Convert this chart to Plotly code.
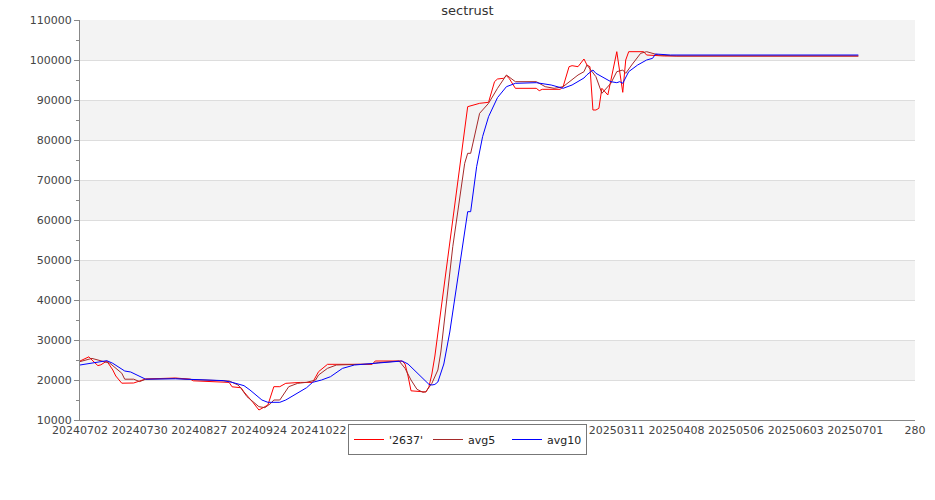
import plotly.graph_objects as go

title_text = "sectrust"

price_x = [0, 2, 3, 4, 6, 7, 8, 9, 11, 12, 14, 18, 22, 32, 37, 38, 50, 51, 54, 55, 58, 60, 63, 65, 67, 69, 74, 78,
           80, 81, 83, 98, 99, 108, 109, 110, 111, 116, 117, 118, 119, 130, 131, 134, 137, 139, 140, 142, 143, 144,
           146, 153, 154, 155, 161, 162, 164, 165, 167, 168, 169, 170, 171, 172, 173, 174, 175, 177, 180, 182,
           183, 184, 189, 190, 196, 261]
price_y = [24750, 25500, 25800, 25000, 23600, 23800, 24300, 24750, 22500, 21000, 19200, 19250, 20250, 20500, 20200,
           19800, 19400, 18300, 18070, 17000, 14400, 12500, 13750, 18330, 18330, 19170, 19400, 19400,
           22080, 22750, 23920, 23920, 24750, 24750, 24000, 21000, 17300, 17000, 18300, 21500, 26000, 88330, 88580,
           89170, 89420, 94580, 95250, 95420, 96080, 95300,
           92920, 92920, 92330, 92670, 92670, 93330, 98330, 98580, 98330, 99170, 100250, 98750, 98330, 87500,
           87500, 87920, 92920, 91250, 102080, 91920,
           100000, 102080, 102080, 101250, 101000, 101000]

avg5_x = [0, 4, 8, 10, 14, 15, 18, 20, 22, 32, 38, 50, 53, 54, 56, 60, 62, 64, 65, 67, 70, 73, 76, 79, 80, 83, 86,
          97, 100, 107, 109, 111, 113, 115, 116, 118, 120, 121, 125, 129, 130, 131, 134, 137, 140, 143, 146, 153,
          156, 159, 162, 164, 167, 169, 170, 173, 175, 178, 180, 182, 183, 185, 188, 190, 192, 194, 200, 261]
avg5_y = [24600, 25400, 24600, 24200, 21700, 20200, 20200, 19600, 20200, 20400, 20100, 19750, 18750, 17920, 15830,
          13330, 13080, 14170, 15000, 15000, 18330, 19170, 19420, 20000, 21250, 22920, 23750,
          24000, 24330, 24750, 22920, 20000, 17670, 16920, 17080, 19170, 22500, 27000, 53330, 74170, 76670, 76670,
          86670, 89170, 92920, 96250, 94580, 94580,
          93330, 92920, 93330, 94580, 96250, 97080, 98750, 95830, 91670, 94170, 97080, 97500, 96670, 98750, 101670,
          102080, 101670, 101250, 101000, 101000]

avg10_x = [0, 3, 6, 9, 11, 15, 17, 19, 22, 32, 38, 48, 51, 53, 55, 57, 59, 61, 63, 67, 69, 72, 74, 76, 78, 81, 84,
           86, 88, 92, 106, 108, 110, 117, 118, 119, 120, 121, 122, 124, 127, 130, 131, 133, 135, 137, 140, 143,
           146, 153, 158, 162, 165, 169, 170, 172, 173, 176, 178, 180, 181, 182, 184, 187, 190, 192, 193, 198, 261]
avg10_y = [23750, 24170, 24580, 24830, 24170, 22250, 22000, 21250, 20200, 20300, 20100, 19850, 19420, 18920, 18580,
           17500, 16250, 15000, 14420, 14420, 15000, 16250, 17080, 18080, 19420, 20000, 20830,
           21900, 22900, 23750, 24580, 24750, 24000, 18920, 18750, 18900, 19500, 21500, 24000, 32000, 47500, 62080,
           62080, 73330, 80830, 85830, 90600, 93330,
           94170, 94330, 93750, 92920, 93750, 95500, 96300, 97500, 96670, 95420, 94580, 94330, 94580, 94170, 97080,
           98750, 100000, 100420, 101500, 101250, 101250]

x_tickvals = list(range(0, 281, 20))
x_ticktext = ["20240702", "20240730", "20240827", "20240924", "20241022", "20241119", "20241217", "20250114",
              "20250211", "20250311", "20250408", "20250506", "20250603", "20250701", "280"]
y_range = [10000, 110000]
y_major = list(range(10000, 110001, 10000))

fig = go.Figure()
fig.add_trace(go.Scatter(x=price_x, y=price_y, mode="lines", name="'2637'",
                         line=dict(color="#ff0000", width=1)))
fig.add_trace(go.Scatter(x=avg5_x, y=avg5_y, mode="lines", name="avg5",
                         line=dict(color="#a52a2a", width=1)))
fig.add_trace(go.Scatter(x=avg10_x, y=avg10_y, mode="lines", name="avg10",
                         line=dict(color="#0000ff", width=1)))

# alternating background bands
for i in range(len(y_major) - 1):
    if i % 2 == 1:
        fig.add_shape(type="rect", xref="paper", x0=0, x1=1, yref="y", y0=y_major[i], y1=y_major[i + 1],
                      fillcolor="#f3f3f3", line=dict(width=0), layer="below")

fig.update_layout(
    width=935, height=500,
    margin=dict(l=80, r=20, t=20, b=80, autoexpand=False),
    paper_bgcolor="white", plot_bgcolor="white",
    font=dict(family="DejaVu Sans", size=11, color="#444"),
    title=dict(text=title_text, x=0.5, xref="container", xanchor="center",
               y=1 - 10 / 500, yref="container", yanchor="middle",
               font=dict(size=13, color="#333")),
    showlegend=True,
    legend=dict(orientation="h", x=(467.5 - 80) / 835, xanchor="center",
                y=(420 - 424) / 400, yanchor="top",
                bgcolor="white", bordercolor="#777", borderwidth=1,
                font=dict(size=11, color="#222"),
                entrywidth=34, entrywidthmode="pixels"),
    xaxis=dict(range=[0, 280], tickmode="array", tickvals=x_tickvals, ticktext=x_ticktext,
               showgrid=False, zeroline=False, showline=True, linecolor="#888", linewidth=1,
               ticks="", tickfont=dict(size=11, color="#444"), automargin=False),
    yaxis=dict(range=y_range, tickmode="array", tickvals=y_major, showgrid=True, gridcolor="#dddddd",
               zeroline=False, showline=True, linecolor="#888", linewidth=1,
               ticks="outside", ticklen=5, tickcolor="#888",
               minor=dict(dtick=5000, tick0=5000, ticks="outside", ticklen=3, tickcolor="#888", showgrid=False),
               tickfont=dict(size=11, color="#444"), tickformat="d", automargin=False),
)

fig.write_html("out.html", config={"displayModeBar": False},
               post_script="document.body.style.margin='0';document.body.style.padding='0';")
